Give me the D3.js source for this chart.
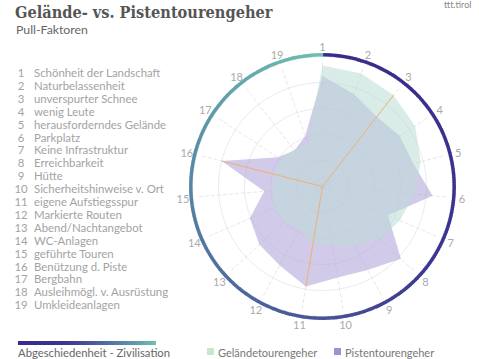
<!DOCTYPE html>
<html><head><meta charset="utf-8">
<script src="https://cdn.jsdelivr.net/npm/d3@7"></script>
<style>body{margin:0;background:#fff}svg{display:block}</style>
</head><body><svg id="c" width="479" height="359"></svg>
<script>
const categories = ["Schönheit der Landschaft","Naturbelassenheit","unverspurter Schnee","wenig Leute","herausforderndes Gelände","Parkplatz","Keine Infrastruktur","Erreichbarkeit","Hütte","Sicherheitshinweise v. Ort","eigene Aufstiegsspur","Markierte Routen","Abend/Nachtangebot","WC-Anlagen","geführte Touren","Benützung d. Piste","Bergbahn","Ausleihmögl. v. Ausrüstung","Umkleideanlagen"];
const gelaende = [93,92,89,85,78,71,65,60,52,46,44,38,40,41,39,38,38,36,35];
const pisten   = [85,75,68,71,72,85,55,82,73,71,78,69,66,61,45,80,41,35,41];
const seriesNames = ["Geländetourengeher","Pistentourengeher"];
const gridTicks = [20,40,60,80,100];
// highlighted lines: [series index, category index]
const highlights = [[0,2],[1,15],[1,10]];

const svg = d3.select("#c");
const cx = 322.5, cy = 186.5, R = 130;
const n = categories.length;
const ang = d3.scaleLinear().domain([0,n]).range([0,2*Math.PI]);
const r = d3.scaleLinear().domain([0,100]).range([0,R]);
const pt = (i,v)=>[cx + r(v)*Math.sin(ang(i)), cy - r(v)*Math.cos(ang(i))];

// title
svg.append("text").attr("x",15).attr("y",18).text("Gelände- vs. Pistentourengeher")
  .attr("font-family","'DejaVu Serif Condensed','DejaVu Serif'").attr("font-weight","bold").attr("font-size",16.2).attr("fill","#555");
svg.append("text").attr("x",16).attr("y",34).text("Pull-Faktoren")
  .attr("font-family","Lato").attr("font-size",12.3).attr("fill","#666");
svg.append("text").attr("x",444).attr("y",8).text("ttt.tirol")
  .attr("font-family","Lato").attr("font-size",9).attr("fill","#888");

// category list
const list = svg.append("g");
categories.forEach((c,i)=>{
  const y = 77 + i*12.9;
  list.append("text").attr("x",21).attr("y",y).attr("text-anchor","middle").text(i+1)
    .attr("font-family","Lato").attr("font-size",11.4).attr("fill","#a3a3a3");
  list.append("text").attr("x",34).attr("y",y).text(c)
    .attr("font-family","Lato").attr("font-size",11.4).attr("fill","#a3a3a3");
});

// gradient legend bar
const ringColor = d3.scaleLinear().domain([0,0.35,0.55,0.78,1])
  .range(["#372b8d","#3c3591","#4a5c9c","#578ca5","#6fc0b0"]).interpolate(d3.interpolateRgb);
const defs = svg.append("defs");
const lg = defs.append("linearGradient").attr("id","lg");
d3.range(0,1.001,0.1).forEach(t=>lg.append("stop").attr("offset",t).attr("stop-color",ringColor(t)));
svg.append("rect").attr("x",18).attr("y",341).attr("width",138).attr("height",4).attr("fill","url(#lg)");
svg.append("text").attr("x",18).attr("y",357).text("Abgeschiedenheit - Zivilisation")
  .attr("font-family","Lato").attr("font-size",11.3).attr("fill","#666");

// grid
const g = svg.append("g");
g.selectAll("circle.grid").data(gridTicks).join("circle").attr("cx",cx).attr("cy",cy)
  .attr("r",d=>r(d)).attr("fill","none").attr("stroke","#e4e4e4").attr("stroke-width",0.8);
g.selectAll("line.spoke").data(d3.range(n)).join("line")
  .attr("x1",cx).attr("y1",cy)
  .attr("x2",i=>pt(i,97)[0]).attr("y2",i=>pt(i,97)[1])
  .attr("stroke","#dcdcdc").attr("stroke-width",0.7).attr("stroke-dasharray","4,2");

// polygons
const line = d3.lineRadial().angle((d,i)=>ang(i)).radius(d=>r(d)).curve(d3.curveLinearClosed);
const pg = svg.append("g").attr("transform",`translate(${cx},${cy})`);
pg.append("path").attr("d",line(pisten)).attr("fill","#b4aadb").attr("fill-opacity",0.62);
pg.append("path").attr("d",line(gelaende)).attr("fill","#bcdcd6").attr("fill-opacity",0.55);

// highlight lines
const series = [gelaende,pisten];
svg.selectAll("line.hl").data(highlights).join("line")
  .attr("x1",cx).attr("y1",cy)
  .attr("x2",d=>pt(d[1],series[d[0]][d[1]])[0]).attr("y2",d=>pt(d[1],series[d[0]][d[1]])[1])
  .attr("stroke","#f0b274").attr("stroke-width",1);

// outer ring with angular gradient
const segs = 360;
const arc = d3.arc().innerRadius(R).outerRadius(R+3.4);
const rg = svg.append("g").attr("transform",`translate(${cx},${cy})`);
rg.selectAll("path").data(d3.range(segs)).join("path")
  .attr("d",k=>arc({startAngle:2*Math.PI*k/segs,endAngle:2*Math.PI*(k+1.3)/segs}))
  .attr("fill",k=>ringColor(k/segs));

// category number labels
svg.selectAll("text.cl").data(d3.range(n)).join("text")
  .attr("x",i=>cx + (R+10)*Math.sin(ang(i))).attr("y",i=>cy - (R+10)*Math.cos(ang(i)))
  .attr("text-anchor","middle").attr("dominant-baseline","central")
  .text(i=>i+1).attr("font-family","Lato").attr("font-size",11).attr("fill","#aaa");

// series legend
const leg = [{x:207,c:"#c8e6cb"},{x:334,c:"#9e92d2"}];
leg.forEach((l,i)=>{
  svg.append("rect").attr("x",l.x).attr("y",348).attr("width",7).attr("height",7).attr("fill",l.c);
  svg.append("text").attr("x",l.x+11).attr("y",357).text(seriesNames[i])
    .attr("font-family","Lato").attr("font-size",11).attr("fill","#777");
});
</script></body></html>
